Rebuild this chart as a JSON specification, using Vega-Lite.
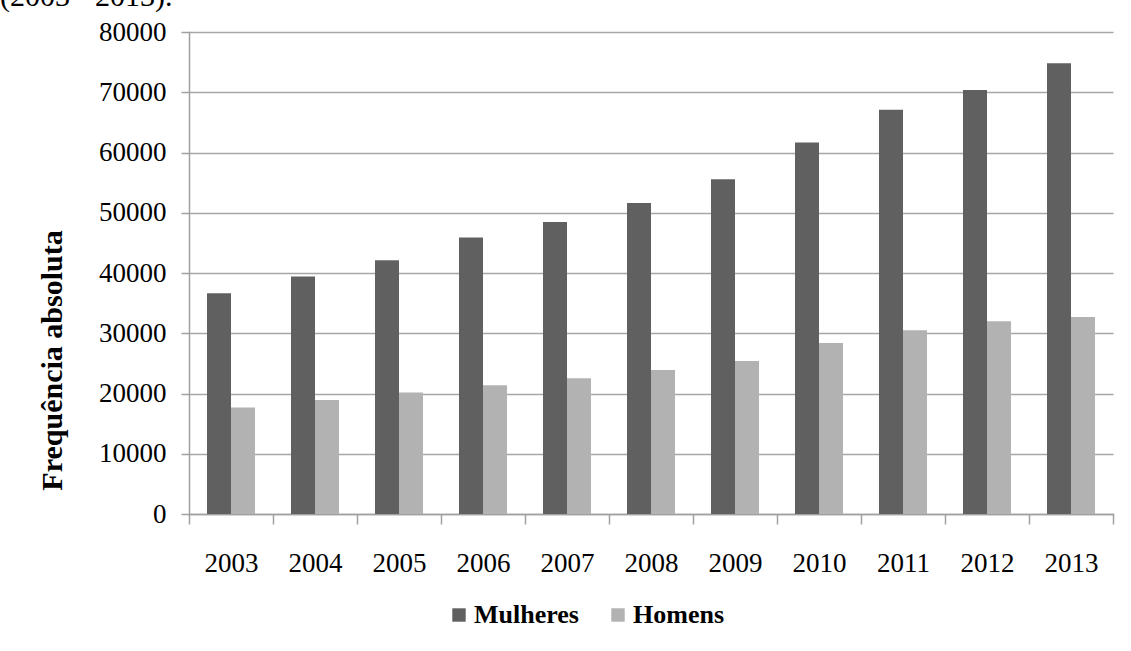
{
  "$schema": "https://vega.github.io/schema/vega-lite/v6.json",
  "autosize": "none",
  "width": 924,
  "height": 482,
  "padding": {"left": 189, "top": 32, "right": 18, "bottom": 137},
  "background": "white",
  "title": {
    "text": "(2003 - 2013).",
    "anchor": "start",
    "frame": "group",
    "baseline": "alphabetic",
    "offset": 0,
    "dx": -189,
    "dy": 18,
    "font": "Liberation Serif",
    "fontSize": 30,
    "fontWeight": "normal",
    "color": "black"
  },
  "data": {
    "values": [
      {"ano": "2003", "sexo": "Mulheres", "valor": 36650},
      {"ano": "2004", "sexo": "Mulheres", "valor": 39400},
      {"ano": "2005", "sexo": "Mulheres", "valor": 42100},
      {"ano": "2006", "sexo": "Mulheres", "valor": 45900},
      {"ano": "2007", "sexo": "Mulheres", "valor": 48460},
      {"ano": "2008", "sexo": "Mulheres", "valor": 51620},
      {"ano": "2009", "sexo": "Mulheres", "valor": 55540},
      {"ano": "2010", "sexo": "Mulheres", "valor": 61680},
      {"ano": "2011", "sexo": "Mulheres", "valor": 67100},
      {"ano": "2012", "sexo": "Mulheres", "valor": 70380},
      {"ano": "2013", "sexo": "Mulheres", "valor": 74830},
      {"ano": "2003", "sexo": "Homens", "valor": 17690},
      {"ano": "2004", "sexo": "Homens", "valor": 18920},
      {"ano": "2005", "sexo": "Homens", "valor": 20180},
      {"ano": "2006", "sexo": "Homens", "valor": 21350},
      {"ano": "2007", "sexo": "Homens", "valor": 22550},
      {"ano": "2008", "sexo": "Homens", "valor": 23900},
      {"ano": "2009", "sexo": "Homens", "valor": 25400},
      {"ano": "2010", "sexo": "Homens", "valor": 28400},
      {"ano": "2011", "sexo": "Homens", "valor": 30500},
      {"ano": "2012", "sexo": "Homens", "valor": 32000},
      {"ano": "2013", "sexo": "Homens", "valor": 32700}
    ]
  },
  "mark": {"type": "bar"},
  "encoding": {
    "x": {
      "field": "ano",
      "type": "nominal",
      "scale": {"paddingInner": 0, "paddingOuter": 0},
      "axis": {
        "title": null,
        "labelAngle": 0,
        "tickBand": "extent",
        "tickSize": 10,
        "tickColor": "#a0a0a0",
        "tickWidth": 1.5,
        "domainColor": "#a0a0a0",
        "domainWidth": 1.5,
        "labelFont": "Liberation Serif",
        "labelFontSize": 27,
        "labelColor": "black",
        "labelPadding": 26,
        "grid": false
      }
    },
    "xOffset": {
      "field": "sexo",
      "type": "nominal",
      "sort": ["Mulheres", "Homens"],
      "scale": {"paddingInner": 0, "paddingOuter": 0.75}
    },
    "y": {
      "field": "valor",
      "type": "quantitative",
      "scale": {"domain": [0, 80000], "nice": false},
      "axis": {
        "title": "Frequência absoluta",
        "titleFont": "Liberation Serif",
        "titleFontSize": 30,
        "titleFontWeight": "bold",
        "titleColor": "black",
        "titleAngle": -90,
        "titleBaseline": "alphabetic",
        "titleAlign": "center",
        "titleX": -128,
        "titleY": 328,
        "values": [0, 10000, 20000, 30000, 40000, 50000, 60000, 70000, 80000],
        "format": "d",
        "tickSize": 8,
        "tickColor": "#a0a0a0",
        "tickWidth": 1.5,
        "domainColor": "#a0a0a0",
        "domainWidth": 1.5,
        "grid": true,
        "gridColor": "#a6a6a6",
        "gridWidth": 1.5,
        "labelFont": "Liberation Serif",
        "labelFontSize": 27,
        "labelColor": "black",
        "labelPadding": 15
      }
    },
    "color": {
      "field": "sexo",
      "type": "nominal",
      "scale": {"domain": ["Mulheres", "Homens"], "range": ["#606060", "#b2b2b2"]},
      "legend": {
        "title": null,
        "orient": "none",
        "direction": "horizontal",
        "legendX": 257,
        "legendY": 570,
        "symbolType": "square",
        "symbolSize": 180,
        "symbolStrokeWidth": 0,
        "symbolOpacity": 1,
        "labelFont": "Liberation Serif",
        "labelFontSize": 26,
        "labelFontWeight": "bold",
        "labelColor": "black",
        "labelOffset": 2,
        "columnPadding": 26
      }
    }
  },
  "config": {
    "view": {"stroke": null},
    "axis": {"domainCap": "square"}
  }
}
